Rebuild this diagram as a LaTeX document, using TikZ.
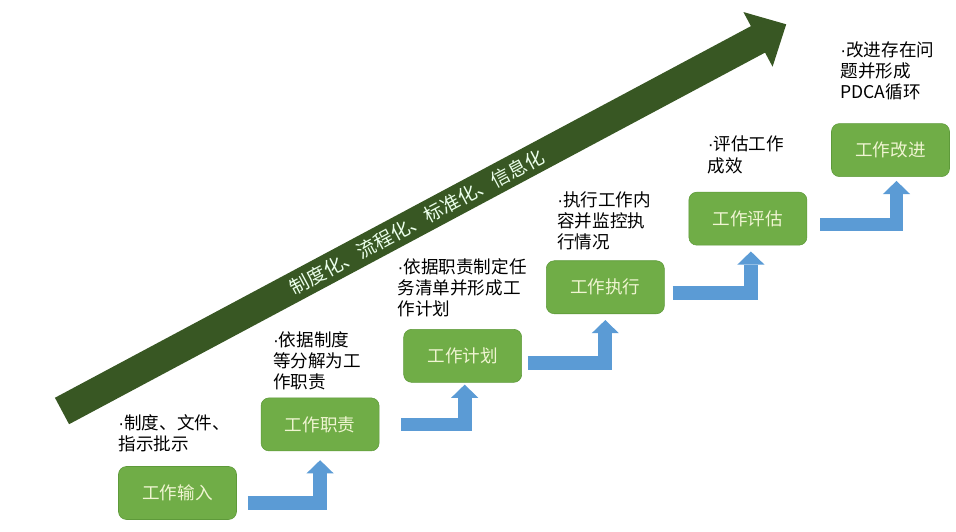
\documentclass[tikz,border=0pt]{standalone}
\usepackage{fontspec}
\newfontfamily\cjk{Noto Sans CJK SC}
\newfontfamily\latin{Liberation Sans}
\newcommand\dotlead{{\latin ·}}
\usetikzlibrary{arrows.meta, positioning, calc}
\definecolor{stepgreen}{HTML}{70AD47}
\definecolor{stepedge}{HTML}{5E9A3A}
\definecolor{steptext}{HTML}{F0F5D2}
\definecolor{flowblue}{HTML}{5B9BD5}
\definecolor{bandgreen}{HTML}{385723}

\begin{document}
\begin{tikzpicture}[x=0.025cm, y=0.025cm,
  box/.style={rectangle, draw=stepedge, fill=stepgreen, rounded corners=0.2cm, minimum width=2.95cm, minimum height=1.325cm, inner sep=0pt, text=steptext, font=\cjk\fontsize{12.5pt}{15pt}\selectfont},
  note/.style={align=left, inner sep=0pt, font=\cjk\fontsize{12.5pt}{15pt}\selectfont},
  bandtext/.style={text=white!92!green, inner sep=0pt, font=\cjk\fontsize{13.5pt}{16pt}\selectfont},
  flow/.style={draw=flowblue, line width=0.34cm, -{Triangle[length=0.33cm, width=0.68cm, line width=0pt]}}]
  \useasboundingbox (0,0) rectangle (956,532);

  % big arrow behind everything
  \coordinate (tail) at (62,121);
  \coordinate (tip) at (786,507);
  \begin{scope}[shift={(tail)}, rotate=28.1]
    \fill[bandgreen] (0,-15) -- (789,-15) -- (789,-31) -- (821,0) -- (789,31) -- (789,15) -- (0,15) -- cycle;
  \end{scope}
  \node[bandtext, rotate=28.1] (band) at ($(tail)!0.49!(tip)$) {制度化、流程化、标准化、信息化};

  % steps
  \node[box] (in) at (177.5,39) {工作输入};
  \node[box, above right=0.375cm and 0.6cm of in] (duty) {工作职责};
  \node[box, above right=0.375cm and 0.6cm of duty] (plan) {工作计划};
  \node[box, above right=0.375cm and 0.6cm of plan] (exec) {工作执行};
  \node[box, above right=0.375cm and 0.6cm of exec] (eval) {工作评估};
  \node[box, above right=0.375cm and 0.6cm of eval] (impr) {工作改进};

  % notes above the steps
  \node[note, above right=0.35cm and 0cm of in.north west] (in-note) {\dotlead 制度、文件、\\指示批示};
  \node[note, above right=0.175cm and 0.3cm of duty.north west] (duty-note) {\dotlead 依据制度\\等分解为工\\作职责};
  \node[note, above right=0.3cm and -0.15cm of plan.north west] (plan-note) {\dotlead 依据职责制定任\\务清单并形成工\\作计划};
  \node[note, above right=0.25cm and 0.275cm of exec.north west] (exec-note) {\dotlead 执行工作内\\容并监控执\\行情况};
  \node[note, above right=0.45cm and 0.475cm of eval.north west] (eval-note) {\dotlead 评估工作\\成效};
  \node[note, above right=0.575cm and 0.225cm of impr.north west] (impr-note) {\dotlead 改进存在问\\题并形成\\PDCA循环};

  % elbow arrows
  \draw[flow] ([xshift=0.275cm, yshift=-0.25cm]in.east) -| ([yshift=-0.225cm]duty.south);
  \draw[flow] ([xshift=0.55cm]duty.east) -| ([xshift=0.05cm, yshift=-0.05cm]plan.south);
  \draw[flow] ([xshift=0.15cm, yshift=-0.175cm]plan.east) -| ([yshift=-0.15cm]exec.south);
  \draw[flow] ([xshift=0.2cm, yshift=-0.15cm]exec.east) -| ([xshift=0.075cm, yshift=-0.15cm]eval.south);
  \draw[flow] ([xshift=0.325cm, yshift=-0.15cm]eval.east) -| ([xshift=0.15cm, yshift=-0.1cm]impr.south);
\end{tikzpicture}
\end{document}
